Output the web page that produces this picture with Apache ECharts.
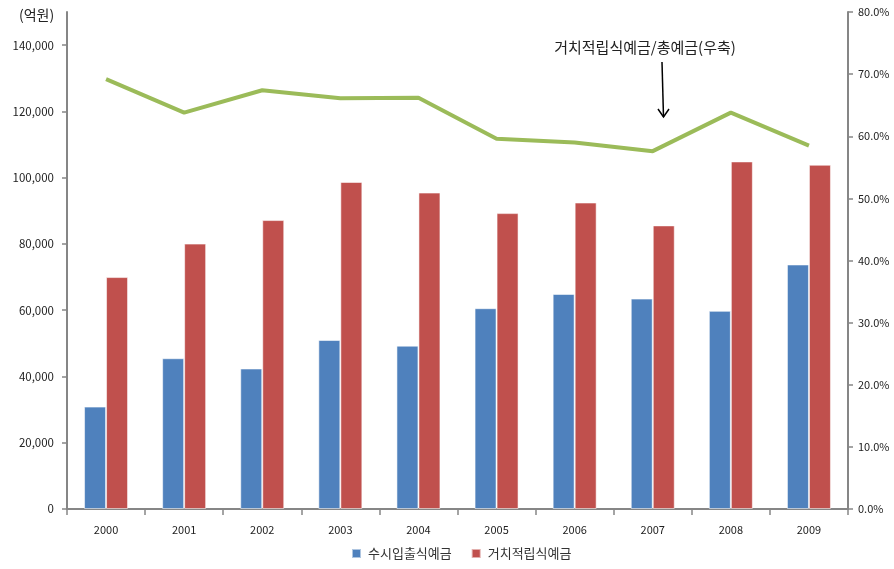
<!DOCTYPE html>
<html>
<head>
<meta charset="utf-8">
<script src="https://cdn.jsdelivr.net/npm/echarts@6/dist/echarts.min.js"></script>
<style>
  html, body { margin: 0; padding: 0; background: #fff; }
  #chart { width: 894px; height: 569px; }
</style>
</head>
<body>
<div id="chart"></div>
<script>
// 연도별 예금 잔액 (억원) 및 거치적립식예금 비중 (%)
const years = ['2000', '2001', '2002', '2003', '2004', '2005', '2006', '2007', '2008', '2009'];
const demandDeposits = [30900, 45500, 42400, 51000, 49300, 60600, 64900, 63500, 59800, 73800];
const savingsDeposits = [70000, 80100, 87200, 98700, 95500, 89300, 92500, 85600, 104900, 103900];
const savingsShare = [69.2, 63.8, 67.4, 66.1, 66.2, 59.6, 59.0, 57.6, 63.8, 58.5];
const leftTicks = [0, 20000, 40000, 60000, 80000, 100000, 120000, 140000];
const rightTicks = [0, 10, 20, 30, 40, 50, 60, 70, 80];

const FONT = '"Noto Sans CJK KR", "Noto Sans", sans-serif';
const AXIS_GRAY = '#868686';
const chart = echarts.init(document.getElementById('chart'));

chart.setOption({
  animation: false,
  textStyle: { fontFamily: FONT },
  grid: { left: 67, right: 46, top: 12, bottom: 60, containLabel: false },
  legend: {
    bottom: 4,
    left: 346,
    icon: 'rect',
    itemWidth: 9,
    itemHeight: 9,
    itemGap: 19,
    textStyle: { fontSize: 13, color: '#333', fontFamily: FONT, padding: [0, 0, 0, 2] },
    data: ['수시입출식예금', '거치적립식예금']
  },
  xAxis: {
    type: 'category',
    data: years,
    boundaryGap: true,
    axisLine: { lineStyle: { color: AXIS_GRAY, width: 2 } },
    axisTick: { show: true, length: 6, lineStyle: { color: AXIS_GRAY, width: 1.5 } },
    axisLabel: { color: '#222', fontSize: 11, margin: 15 }
  },
  yAxis: [
    {
      type: 'value',
      min: 0,
      max: 150000,
      interval: 20000,
      splitLine: { show: false },
      axisLine: { show: true, lineStyle: { color: AXIS_GRAY, width: 2 } },
      axisTick: { show: true, length: 5, lineStyle: { color: AXIS_GRAY, width: 1.5 }, customValues: leftTicks },
      axisLabel: {
        color: '#222', fontSize: 11.5, margin: 13,
        customValues: leftTicks,
        formatter: v => v.toLocaleString('en-US')
      }
    },
    {
      type: 'value',
      min: 0,
      max: 80,
      interval: 10,
      position: 'right',
      splitLine: { show: false },
      axisLine: { show: true, lineStyle: { color: AXIS_GRAY, width: 2 } },
      axisTick: { show: true, length: 5, lineStyle: { color: AXIS_GRAY, width: 1.5 }, customValues: rightTicks },
      axisLabel: {
        color: '#222', fontSize: 11, margin: 10,
        customValues: rightTicks,
        formatter: v => v.toFixed(1) + '%'
      }
    }
  ],
  series: [
    {
      name: '수시입출식예금',
      type: 'bar',
      data: demandDeposits,
      barWidth: 22,
      barGap: '0%',
      itemStyle: { color: '#4F81BD', borderColor: 'rgba(255,255,255,0.55)', borderWidth: 1 }
    },
    {
      name: '거치적립식예금',
      type: 'bar',
      data: savingsDeposits,
      barWidth: 22,
      barGap: '0%',
      itemStyle: { color: '#C0504D', borderColor: 'rgba(255,255,255,0.55)', borderWidth: 1 }
    },
    {
      name: '거치적립식예금/총예금(우축)',
      type: 'line',
      yAxisIndex: 1,
      data: savingsShare,
      symbol: 'none',
      lineStyle: { color: '#9BBB59', width: 4 },
      itemStyle: { color: '#9BBB59' }
    }
  ],
  graphic: [
    // 좌축 단위 표기
    {
      type: 'text',
      x: 19,
      y: 8,
      style: { text: '(억원)', fontSize: 14, fill: '#222', fontFamily: FONT }
    },
    // 꺾은선 설명과 화살표
    {
      type: 'text',
      x: 645,
      y: 47,
      style: {
        text: '거치적립식예금/총예금(우축)',
        fontSize: 15, fill: '#222', fontFamily: FONT,
        align: 'center', verticalAlign: 'middle'
      }
    },
    {
      type: 'line',
      shape: { x1: 662, y1: 62, x2: 663.5, y2: 117 },
      style: { stroke: '#000', lineWidth: 1.5 }
    },
    {
      type: 'polyline',
      shape: { points: [[658, 109], [663.5, 117], [669, 109]] },
      style: { stroke: '#000', lineWidth: 1.5, fill: null }
    }
  ]
});
</script>
</body>
</html>
